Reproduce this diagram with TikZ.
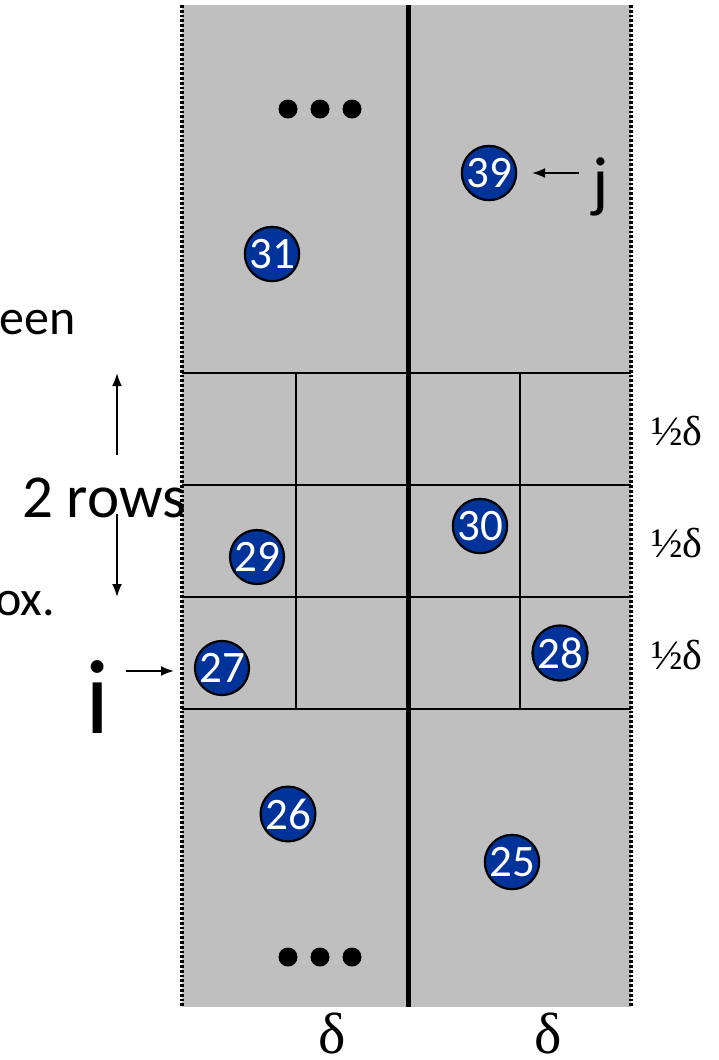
\documentclass[tikz,border=0pt]{standalone}
\usepackage{fontspec}
\setmainfont{Carlito}
\newfontfamily\seriffont{Liberation Serif}
\usetikzlibrary{arrows.meta}
\definecolor{cellgray}{RGB}{191,191,191}
\definecolor{ptblue}{RGB}{0,51,153}
\tikzset{
  pt/.style={circle, fill=ptblue, draw=black, line width=2.2pt, minimum size=49pt, inner sep=0pt,
    text=white, font=\fontsize{45}{45}\selectfont},
  dotmark/.style={circle, fill=black, minimum size=19pt, inner sep=0pt},
  gridline/.style={line width=2pt, black},
  midline/.style={line width=5pt, black},
  border/.style={line width=3.4pt, dash pattern=on 2.8pt off 2pt, black},
  arr/.style={line width=2pt, -{Latex[length=13pt,width=10pt]}},
  half/.style={font=\seriffont\fontsize{42}{42}\selectfont, inner sep=0pt, anchor=base},
  delta/.style={font=\seriffont\fontsize{58}{58}\selectfont, inner sep=0pt, anchor=base},
  lbl/.style={inner sep=0pt, anchor=base}
}
\begin{document}
\begin{tikzpicture}[x=1pt,y=-1pt]
\useasboundingbox (0,0) rectangle (718,1060);
% gray band
\fill[cellgray] (182,5) rectangle (631,1007);
% horizontal grid lines
\foreach \yy in {373,485,597,709} \draw[gridline] (182,\yy) -- (631,\yy);
% vertical thin lines
\draw[gridline] (296,373) -- (296,709);
\draw[gridline] (520,373) -- (520,709);
% middle thick line
\draw[midline] (408,5) -- (408,1007);
% dotted borders
\draw[border] (182,5) -- (182,1007);
\draw[border] (631,5) -- (631,1007);
% dots
\node[dotmark] (d1) at (288,109) {};
\node[dotmark] (d2) at (320,109) {};
\node[dotmark] (d3) at (352,109) {};
\node[dotmark] (d4) at (288,957) {};
\node[dotmark] (d5) at (320,957) {};
\node[dotmark] (d6) at (352,957) {};
% points
\node[pt] (p39) at (489,173) {39};
\node[pt] (p31) at (272,254) {31};
\node[pt] (p30) at (480,526) {30};
\node[pt] (p29) at (257,557) {29};
\node[pt] (p28) at (560,653) {28};
\node[pt] (p27) at (222,668) {27};
\node[pt] (p26) at (288,814) {26};
\node[pt] (p25) at (512,862) {25};
% labels j and i
\node[lbl, font=\fontsize{68}{68}\selectfont] (j) at (601,204) {j};
\coordinate (jtail) at (579,173);
\coordinate (jtip) at (532,173);
\draw[arr] (jtail) -- (jtip);
\node[lbl, font=\fontsize{106}{106}\selectfont] (i) at (98,733) {i};
\coordinate (itail) at (126,671);
\coordinate (itip) at (174,671);
\draw[arr] (itail) -- (itip);
% left text
\node[lbl, anchor=base west, font=\fontsize{50}{50}\selectfont] (een) at (-1,334) {een};
\node[lbl, anchor=base east, font=\fontsize{50}{50}\selectfont] (ox) at (55,615) {ox.};
\node[lbl, font=\fontsize{61}{61}\selectfont] (rows) at (104,517) {2 rows};
\coordinate (upfrom) at (117,455);
\coordinate (upto) at (117,373);
\coordinate (downfrom) at (117,514);
\coordinate (downto) at (117,597);
\draw[arr] (upfrom) -- (upto);
\draw[arr] (downfrom) -- (downto);
% half-delta labels
\node[half] (h1) at (677,445) {½δ};
\node[half] (h2) at (677,557) {½δ};
\node[half] (h3) at (677,669) {½δ};
% bottom delta labels
\node[delta] (dl) at (332,1053) {δ};
\node[delta] (dr) at (548,1053) {δ};
\end{tikzpicture}
\end{document}
